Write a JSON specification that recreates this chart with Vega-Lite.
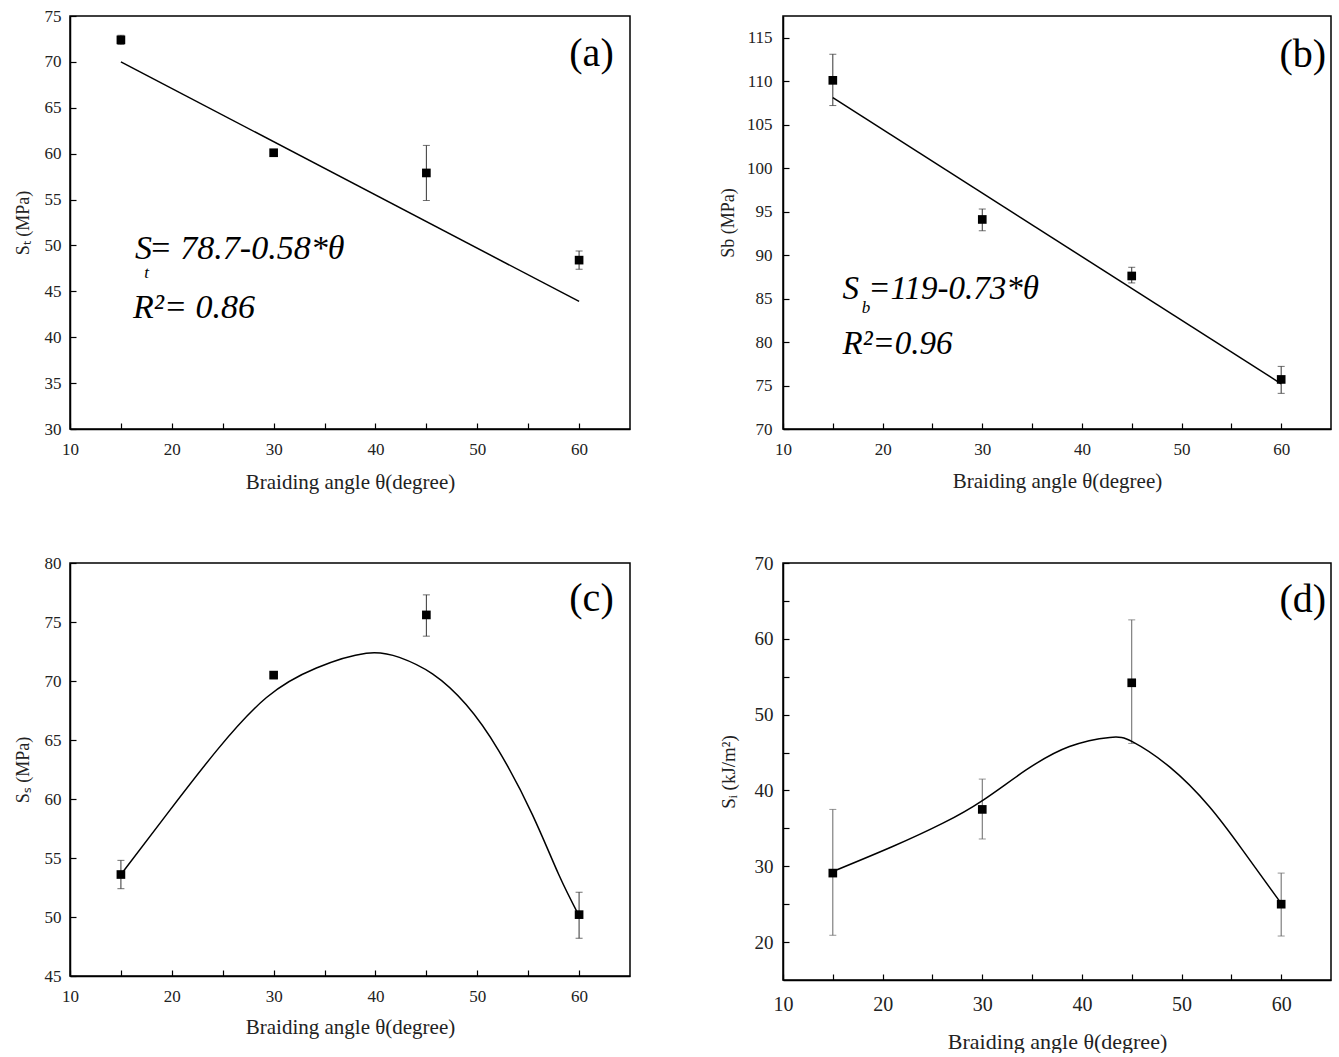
{
  "$schema": "https://vega.github.io/schema/vega-lite/v6.json",
  "background": "white",
  "padding": {"left": 13, "top": 6, "right": 0, "bottom": 0},
  "config": {
    "view": {"stroke": "black", "strokeWidth": 1.5},
    "axis": {
      "grid": false,
      "domainColor": "black",
      "domainWidth": 1.5,
      "tickColor": "black",
      "tickWidth": 1.2,
      "tickSize": -6,
      "labelFont": "Liberation Serif",
      "labelFontSize": 17,
      "labelColor": "#222",
      "titleFont": "Liberation Serif",
      "titleFontSize": 21,
      "titleFontWeight": "normal",
      "titleColor": "#222",
      "labelOverlap": false,
      "labelBound": false,
      "labelFlush": false
    },
    "text": {"font": "Liberation Serif", "color": "black"}
  },
  "datasets": {
    "pts": [
      {"panel": "a", "angle": 15, "value": 72.4, "lo": 71.9, "hi": 72.9},
      {"panel": "a", "angle": 30, "value": 60.1, "lo": 59.8, "hi": 60.4},
      {"panel": "a", "angle": 45, "value": 57.9, "lo": 54.9, "hi": 60.9},
      {"panel": "a", "angle": 60, "value": 48.4, "lo": 47.4, "hi": 49.4},
      {"panel": "b", "angle": 15, "value": 110.1, "lo": 107.2, "hi": 113.1},
      {"panel": "b", "angle": 30, "value": 94.1, "lo": 92.8, "hi": 95.3},
      {"panel": "b", "angle": 45, "value": 87.6, "lo": 86.8, "hi": 88.6},
      {"panel": "b", "angle": 60, "value": 75.7, "lo": 74.1, "hi": 77.2},
      {"panel": "c", "angle": 15, "value": 53.6, "lo": 52.4, "hi": 54.8},
      {"panel": "c", "angle": 30, "value": 70.5, "lo": 70.2, "hi": 70.8},
      {"panel": "c", "angle": 45, "value": 75.6, "lo": 73.8, "hi": 77.3},
      {"panel": "c", "angle": 60, "value": 50.2, "lo": 48.2, "hi": 52.1},
      {"panel": "d", "angle": 15, "value": 29.1, "lo": 20.9, "hi": 37.5},
      {"panel": "d", "angle": 30, "value": 37.5, "lo": 33.6, "hi": 41.5},
      {"panel": "d", "angle": 45, "value": 54.2, "lo": 46.2, "hi": 62.5},
      {"panel": "d", "angle": 60, "value": 25.0, "lo": 20.8, "hi": 29.1}
    ],
    "fit": [
      {"panel": "a", "angle": 15, "value": 70.0},
      {"panel": "a", "angle": 60, "value": 43.9},
      {"panel": "b", "angle": 15, "value": 108.1},
      {"panel": "b", "angle": 60, "value": 75.2},
      {"panel": "c", "angle": 15, "value": 53.6},
      {"panel": "c", "angle": 19.5, "value": 58.7},
      {"panel": "c", "angle": 24.4, "value": 64.1},
      {"panel": "c", "angle": 29.3, "value": 68.6},
      {"panel": "c", "angle": 34.2, "value": 71.1},
      {"panel": "c", "angle": 39.1, "value": 72.35},
      {"panel": "c", "angle": 42.35, "value": 72.0},
      {"panel": "c", "angle": 45.6, "value": 70.6},
      {"panel": "c", "angle": 48.9, "value": 68.0},
      {"panel": "c", "angle": 52.1, "value": 64.1},
      {"panel": "c", "angle": 55.4, "value": 58.7},
      {"panel": "c", "angle": 58.0, "value": 53.6},
      {"panel": "c", "angle": 60, "value": 50.1},
      {"panel": "d", "angle": 15, "value": 29.3},
      {"panel": "d", "angle": 21.0, "value": 32.6},
      {"panel": "d", "angle": 26.0, "value": 35.65},
      {"panel": "d", "angle": 30.05, "value": 38.7},
      {"panel": "d", "angle": 34.4, "value": 42.7},
      {"panel": "d", "angle": 38.75, "value": 45.8},
      {"panel": "d", "angle": 42.8, "value": 47.0},
      {"panel": "d", "angle": 45.1, "value": 46.4},
      {"panel": "d", "angle": 48.8, "value": 43.1},
      {"panel": "d", "angle": 52.8, "value": 37.85},
      {"panel": "d", "angle": 56.15, "value": 32.1},
      {"panel": "d", "angle": 60, "value": 25.1}
    ]
  },
  "columns": 2,
  "spacing": {"row": 134, "column": 153},
  "bounds": "flush",
  "concat": [
    {
      "width": 560, "height": 413,
      "layer": [
        {
          "data": {"name": "pts"}, "transform": [{"filter": "datum.panel == 'a'"}],
          "mark": {"type": "rule", "color": "#333", "strokeWidth": 1},
          "encoding": {
            "x": {"field": "angle", "type": "quantitative", "scale": {"domain": [10, 65], "nice": false, "zero": false},
              "axis": {"title": "Braiding angle θ(degree)", "values": [10, 15, 20, 25, 30, 35, 40, 45, 50, 55, 60],
                "labelExpr": "datum.value % 10 === 0 ? datum.label : ''",
                "labelPadding": 18, "titlePadding": 14}},
            "y": {"field": "lo", "type": "quantitative", "scale": {"domain": [30, 75], "nice": false, "zero": false},
              "axis": {"title": "Sₜ (MPa)", "titleFontSize": 18, "values": [30, 32.5, 35, 37.5, 40, 42.5, 45, 47.5, 50, 52.5, 55, 57.5, 60, 62.5, 65, 67.5, 70, 72.5, 75],
                "labelExpr": "datum.value % 5 === 0 ? datum.label : ''",
                "labelPadding": 15, "titlePadding": 12}},
            "y2": {"field": "hi"}
          }
        },
        {
          "data": {"name": "pts"}, "transform": [{"filter": "datum.panel == 'a'"}],
          "mark": {"type": "tick", "orient": "horizontal", "size": 7, "thickness": 1, "color": "#333"},
          "encoding": {"x": {"field": "angle", "type": "quantitative"}, "y": {"field": "lo", "type": "quantitative"}}
        },
        {
          "data": {"name": "pts"}, "transform": [{"filter": "datum.panel == 'a'"}],
          "mark": {"type": "tick", "orient": "horizontal", "size": 7, "thickness": 1, "color": "#333"},
          "encoding": {"x": {"field": "angle", "type": "quantitative"}, "y": {"field": "hi", "type": "quantitative"}}
        },
        {
          "data": {"name": "fit"}, "transform": [{"filter": "datum.panel == 'a'"}],
          "mark": {"type": "line", "color": "black", "strokeWidth": 1.5},
          "encoding": {"x": {"field": "angle", "type": "quantitative"}, "y": {"field": "value", "type": "quantitative"}}
        },
        {
          "data": {"name": "pts"}, "transform": [{"filter": "datum.panel == 'a'"}],
          "mark": {"type": "square", "size": 75, "color": "black", "opacity": 1},
          "encoding": {"x": {"field": "angle", "type": "quantitative"}, "y": {"field": "value", "type": "quantitative"}}
        },
        {
          "data": {"values": [{}]},
          "mark": {"type": "text", "text": "S", "fontSize": 34, "fontStyle": "italic", "align": "left", "baseline": "alphabetic"},
          "encoding": {"x": {"datum": 16.38, "type": "quantitative"}, "y": {"datum": 48.5, "type": "quantitative"}}
        },
        {
          "data": {"values": [{}]},
          "mark": {"type": "text", "text": "t", "fontSize": 17, "fontStyle": "italic", "align": "left", "baseline": "alphabetic"},
          "encoding": {"x": {"datum": 17.3, "type": "quantitative"}, "y": {"datum": 46.4, "type": "quantitative"}}
        },
        {
          "data": {"values": [{}]},
          "mark": {"type": "text", "text": "= 78.7-0.58*θ", "fontSize": 34, "fontStyle": "italic", "align": "left", "baseline": "alphabetic"},
          "encoding": {"x": {"datum": 17.75, "type": "quantitative"}, "y": {"datum": 48.5, "type": "quantitative"}}
        },
        {
          "data": {"values": [{}]},
          "mark": {"type": "text", "text": "R²= 0.86", "fontSize": 34, "fontStyle": "italic", "align": "left", "baseline": "alphabetic"},
          "encoding": {"x": {"datum": 16.19, "type": "quantitative"}, "y": {"datum": 42.1, "type": "quantitative"}}
        },
        {
          "data": {"values": [{}]},
          "mark": {"type": "text", "text": "(a)", "fontSize": 40, "align": "right", "baseline": "alphabetic"},
          "encoding": {"x": {"datum": 63.4, "type": "quantitative"}, "y": {"datum": 69.5, "type": "quantitative"}}
        }
      ]
    },
    {
      "width": 548, "height": 413,
      "layer": [
        {
          "data": {"name": "pts"}, "transform": [{"filter": "datum.panel == 'b'"}],
          "mark": {"type": "rule", "color": "#333", "strokeWidth": 1},
          "encoding": {
            "x": {"field": "angle", "type": "quantitative", "scale": {"domain": [10, 65], "nice": false, "zero": false},
              "axis": {"title": "Braiding angle θ(degree)", "values": [10, 15, 20, 25, 30, 35, 40, 45, 50, 55, 60],
                "labelExpr": "datum.value % 10 === 0 ? datum.label : ''",
                "labelPadding": 18, "titlePadding": 13}},
            "y": {"field": "lo", "type": "quantitative", "scale": {"domain": [70, 117.5], "nice": false, "zero": false},
              "axis": {"title": "Sb (MPa)", "titleFontSize": 18, "values": [70, 72.5, 75, 77.5, 80, 82.5, 85, 87.5, 90, 92.5, 95, 97.5, 100, 102.5, 105, 107.5, 110, 112.5, 115],
                "labelExpr": "datum.value % 5 === 0 ? datum.label : ''",
                "labelPadding": 17, "titlePadding": 9}},
            "y2": {"field": "hi"}
          }
        },
        {
          "data": {"name": "pts"}, "transform": [{"filter": "datum.panel == 'b'"}],
          "mark": {"type": "tick", "orient": "horizontal", "size": 7, "thickness": 1, "color": "#333"},
          "encoding": {"x": {"field": "angle", "type": "quantitative"}, "y": {"field": "lo", "type": "quantitative"}}
        },
        {
          "data": {"name": "pts"}, "transform": [{"filter": "datum.panel == 'b'"}],
          "mark": {"type": "tick", "orient": "horizontal", "size": 7, "thickness": 1, "color": "#333"},
          "encoding": {"x": {"field": "angle", "type": "quantitative"}, "y": {"field": "hi", "type": "quantitative"}}
        },
        {
          "data": {"name": "fit"}, "transform": [{"filter": "datum.panel == 'b'"}],
          "mark": {"type": "line", "color": "black", "strokeWidth": 1.5},
          "encoding": {"x": {"field": "angle", "type": "quantitative"}, "y": {"field": "value", "type": "quantitative"}}
        },
        {
          "data": {"name": "pts"}, "transform": [{"filter": "datum.panel == 'b'"}],
          "mark": {"type": "square", "size": 75, "color": "black", "opacity": 1},
          "encoding": {"x": {"field": "angle", "type": "quantitative"}, "y": {"field": "value", "type": "quantitative"}}
        },
        {
          "data": {"values": [{}]},
          "mark": {"type": "text", "text": "S", "fontSize": 33, "fontStyle": "italic", "align": "left", "baseline": "alphabetic"},
          "encoding": {"x": {"datum": 15.97, "type": "quantitative"}, "y": {"datum": 85.0, "type": "quantitative"}}
        },
        {
          "data": {"values": [{}]},
          "mark": {"type": "text", "text": "b", "fontSize": 17, "fontStyle": "italic", "align": "left", "baseline": "alphabetic"},
          "encoding": {"x": {"datum": 17.9, "type": "quantitative"}, "y": {"datum": 83.3, "type": "quantitative"}}
        },
        {
          "data": {"values": [{}]},
          "mark": {"type": "text", "text": "=119-0.73*θ", "fontSize": 33, "fontStyle": "italic", "align": "left", "baseline": "alphabetic"},
          "encoding": {"x": {"datum": 18.55, "type": "quantitative"}, "y": {"datum": 85.0, "type": "quantitative"}}
        },
        {
          "data": {"values": [{}]},
          "mark": {"type": "text", "text": "R²=0.96", "fontSize": 33, "fontStyle": "italic", "align": "left", "baseline": "alphabetic"},
          "encoding": {"x": {"datum": 15.97, "type": "quantitative"}, "y": {"datum": 78.67, "type": "quantitative"}}
        },
        {
          "data": {"values": [{}]},
          "mark": {"type": "text", "text": "(b)", "fontSize": 40, "align": "right", "baseline": "alphabetic"},
          "encoding": {"x": {"datum": 64.5, "type": "quantitative"}, "y": {"datum": 111.6, "type": "quantitative"}}
        }
      ]
    },
    {
      "width": 560, "height": 413,
      "layer": [
        {
          "data": {"name": "pts"}, "transform": [{"filter": "datum.panel == 'c'"}],
          "mark": {"type": "rule", "color": "#333", "strokeWidth": 1},
          "encoding": {
            "x": {"field": "angle", "type": "quantitative", "scale": {"domain": [10, 65], "nice": false, "zero": false},
              "axis": {"title": "Braiding angle θ(degree)", "values": [10, 15, 20, 25, 30, 35, 40, 45, 50, 55, 60],
                "labelExpr": "datum.value % 10 === 0 ? datum.label : ''",
                "labelPadding": 18, "titlePadding": 12}},
            "y": {"field": "lo", "type": "quantitative", "scale": {"domain": [45, 80], "nice": false, "zero": false},
              "axis": {"title": "Sₛ (MPa)", "titleFontSize": 18, "values": [45, 47.5, 50, 52.5, 55, 57.5, 60, 62.5, 65, 67.5, 70, 72.5, 75, 77.5, 80],
                "labelExpr": "datum.value % 5 === 0 ? datum.label : ''",
                "labelPadding": 15, "titlePadding": 12}},
            "y2": {"field": "hi"}
          }
        },
        {
          "data": {"name": "pts"}, "transform": [{"filter": "datum.panel == 'c'"}],
          "mark": {"type": "tick", "orient": "horizontal", "size": 7, "thickness": 1, "color": "#333"},
          "encoding": {"x": {"field": "angle", "type": "quantitative"}, "y": {"field": "lo", "type": "quantitative"}}
        },
        {
          "data": {"name": "pts"}, "transform": [{"filter": "datum.panel == 'c'"}],
          "mark": {"type": "tick", "orient": "horizontal", "size": 7, "thickness": 1, "color": "#333"},
          "encoding": {"x": {"field": "angle", "type": "quantitative"}, "y": {"field": "hi", "type": "quantitative"}}
        },
        {
          "data": {"name": "fit"}, "transform": [{"filter": "datum.panel == 'c'"}],
          "mark": {"type": "line", "color": "black", "strokeWidth": 1.5, "interpolate": "natural"},
          "encoding": {"x": {"field": "angle", "type": "quantitative"}, "y": {"field": "value", "type": "quantitative"}}
        },
        {
          "data": {"name": "pts"}, "transform": [{"filter": "datum.panel == 'c'"}],
          "mark": {"type": "square", "size": 75, "color": "black", "opacity": 1},
          "encoding": {"x": {"field": "angle", "type": "quantitative"}, "y": {"field": "value", "type": "quantitative"}}
        },
        {
          "data": {"values": [{}]},
          "mark": {"type": "text", "text": "(c)", "fontSize": 40, "align": "right", "baseline": "alphabetic"},
          "encoding": {"x": {"datum": 63.4, "type": "quantitative"}, "y": {"datum": 75.9, "type": "quantitative"}}
        }
      ]
    },
    {
      "width": 548, "height": 417,
      "layer": [
        {
          "data": {"name": "pts"}, "transform": [{"filter": "datum.panel == 'd'"}],
          "mark": {"type": "rule", "color": "#666", "strokeWidth": 1},
          "encoding": {
            "x": {"field": "angle", "type": "quantitative", "scale": {"domain": [10, 65], "nice": false, "zero": false},
              "axis": {"title": "Braiding angle θ(degree)", "values": [10, 15, 20, 25, 30, 35, 40, 45, 50, 55, 60],
                "labelExpr": "datum.value % 10 === 0 ? datum.label : ''",
                "labelFontSize": 20, "titleFontSize": 22,
                "labelPadding": 20, "titlePadding": 17}},
            "y": {"field": "lo", "type": "quantitative", "scale": {"domain": [15, 70], "nice": false, "zero": false},
              "axis": {"title": "Sᵢ (kJ/m²)", "values": [20, 25, 30, 35, 40, 45, 50, 55, 60, 65, 70],
                "labelExpr": "indexof(['20', '30', '40', '50', '60', '70'], datum.label) >= 0 ? datum.label : ''",
                "labelFontSize": 19, "titleFontSize": 19,
                "labelPadding": 16, "titlePadding": 16}},
            "y2": {"field": "hi"}
          }
        },
        {
          "data": {"name": "pts"}, "transform": [{"filter": "datum.panel == 'd'"}],
          "mark": {"type": "tick", "orient": "horizontal", "size": 7, "thickness": 1, "color": "#666"},
          "encoding": {"x": {"field": "angle", "type": "quantitative"}, "y": {"field": "lo", "type": "quantitative"}}
        },
        {
          "data": {"name": "pts"}, "transform": [{"filter": "datum.panel == 'd'"}],
          "mark": {"type": "tick", "orient": "horizontal", "size": 7, "thickness": 1, "color": "#666"},
          "encoding": {"x": {"field": "angle", "type": "quantitative"}, "y": {"field": "hi", "type": "quantitative"}}
        },
        {
          "data": {"name": "fit"}, "transform": [{"filter": "datum.panel == 'd'"}],
          "mark": {"type": "line", "color": "black", "strokeWidth": 1.5, "interpolate": "natural"},
          "encoding": {"x": {"field": "angle", "type": "quantitative"}, "y": {"field": "value", "type": "quantitative"}}
        },
        {
          "data": {"name": "pts"}, "transform": [{"filter": "datum.panel == 'd'"}],
          "mark": {"type": "square", "size": 75, "color": "black", "opacity": 1},
          "encoding": {"x": {"field": "angle", "type": "quantitative"}, "y": {"field": "value", "type": "quantitative"}}
        },
        {
          "data": {"values": [{}]},
          "mark": {"type": "text", "text": "(d)", "fontSize": 40, "align": "right", "baseline": "alphabetic"},
          "encoding": {"x": {"datum": 64.5, "type": "quantitative"}, "y": {"datum": 63.5, "type": "quantitative"}}
        }
      ]
    }
  ]
}
